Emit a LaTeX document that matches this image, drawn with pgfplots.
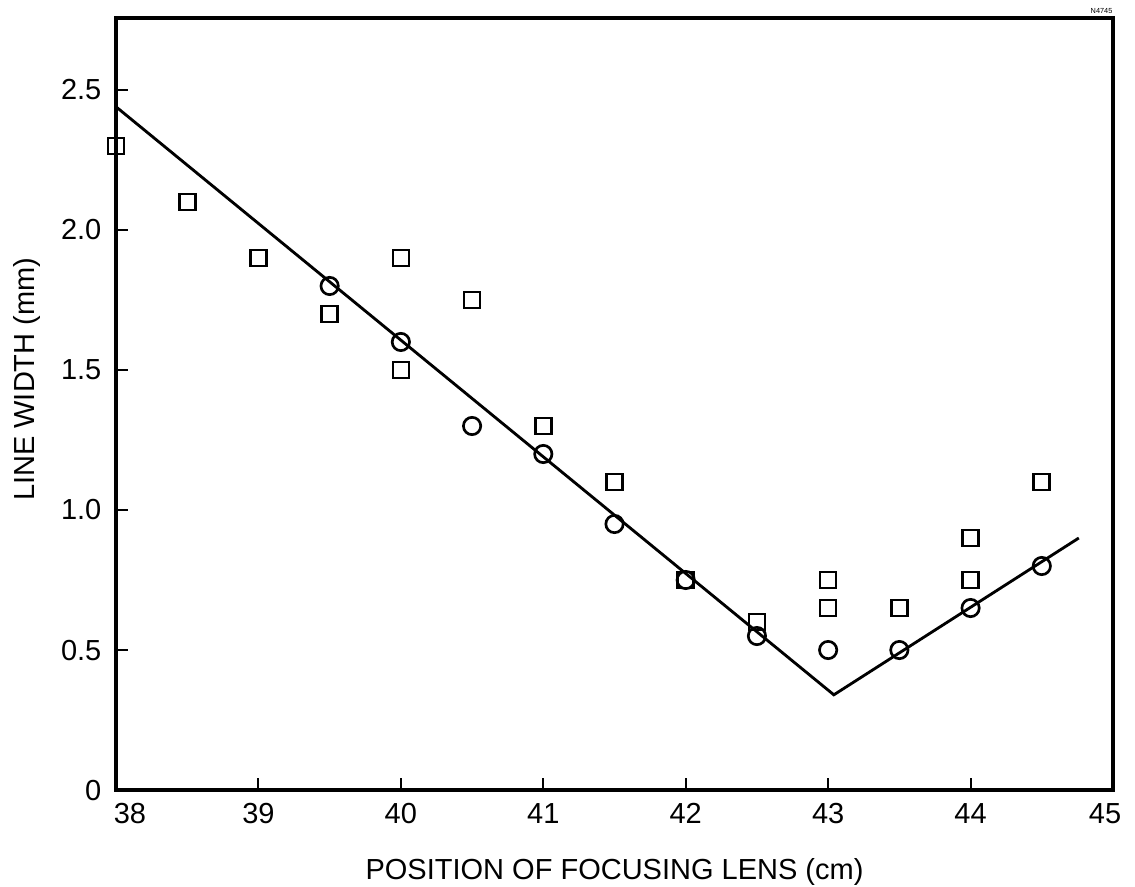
\documentclass[border=0pt]{standalone}
\usepackage{fontspec}
\setmainfont{Liberation Sans}
\usepackage{pgfplots}
\pgfplotsset{compat=1.18}

% measured spot values (cm, mm)
\pgfplotstableread{
x y
38.0 2.30
38.5 2.10
39.0 1.90
39.5 1.70
40.0 1.90
40.0 1.50
40.5 1.75
41.0 1.30
41.5 1.10
42.0 0.75
42.5 0.60
43.0 0.75
43.0 0.65
43.5 0.65
44.0 0.90
44.0 0.75
44.5 1.10
}\squares
\pgfplotstableread{
x y
39.5 1.80
40.0 1.60
40.5 1.30
41.0 1.20
41.5 0.95
42.0 0.75
42.5 0.55
43.0 0.50
43.5 0.50
44.0 0.65
44.5 0.80
}\circles

\begin{document}
\begin{tikzpicture}
\begin{axis}[
    scale only axis,
    width=299.1pt, height=231.6pt,
    xmin=38, xmax=45,
    ymin=0, ymax=2.757,
    clip=false,
    axis line style={line width=1.3pt},
    tick align=inside,
    xtick pos=bottom, ytick pos=left,
    major tick length=3.6pt,
    tick style={line width=0.6pt, black},
    xtick={38,39,40,41,42,43,44,45},
    xticklabels={\kern8.4pt 38,39,40,41,42,43,44,45\kern4.8pt},
    ytick={0,0.5,1,1.5,2,2.5},
    yticklabels={0,0.5,1.0,1.5,2.0,2.5},
    tick label style={font=\fontsize{8.7}{10}\selectfont, inner sep=0pt},
    xticklabel style={anchor=north, yshift=-3.9pt},
    yticklabel style={anchor=east, xshift=-4.2pt},
    label style={font=\fontsize{8.7}{10}\selectfont, inner sep=0pt},
    xlabel={POSITION OF FOCUSING LENS (cm)},
    ylabel={LINE WIDTH (mm)},
    xlabel style={at={(axis description cs:0.5,-0.0872)}, anchor=north},
    ylabel style={at={(axis description cs:-0.1036,0.532)}, anchor=north},
]
\addplot[black, line width=0.85pt, no marks] coordinates {
    (38,2.44) (43.04,0.34) (44.76,0.90)
};
\addplot[only marks, mark=square, mark size=2.4pt,
    mark options={line width=0.8pt, fill=white, draw=black}] table {\squares};
\addplot[only marks, mark=o, mark size=2.6pt,
    mark options={line width=0.8pt, fill=white, draw=black}] table {\circles};
\coordinate (ll) at (rel axis cs:0,0);
\coordinate (ur) at (rel axis cs:1,1);
\node[anchor=south east, inner sep=0pt, yshift=1.2pt,
    font=\fontsize{2.2}{2.5}\selectfont] at (rel axis cs:1,1) {N4745};
\end{axis}
\pgfresetboundingbox
\path ([xshift=-34.8pt,yshift=-28.8pt]ll) rectangle ([xshift=6.6pt,yshift=5.4pt]ur);
\end{tikzpicture}
\end{document}
